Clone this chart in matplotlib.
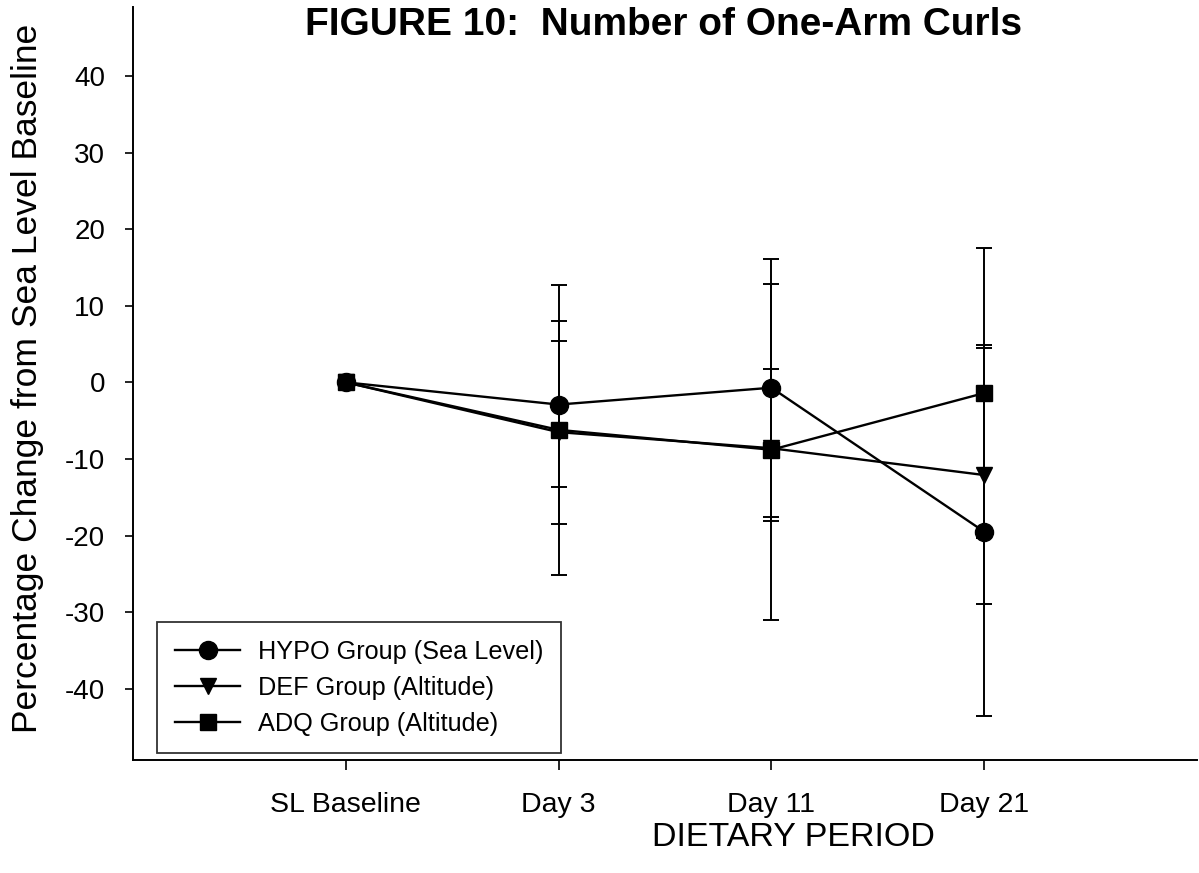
import matplotlib
matplotlib.use("Agg")
import matplotlib.pyplot as plt
import numpy as np

plt.rcParams['font.family'] = ['Liberation Sans', 'DejaVu Sans']
plt.rcParams['axes.unicode_minus'] = False

periods = ["SL Baseline", "Day 3", "Day 11", "Day 21"]
x_pos = [1, 2, 3, 4]

hypo_mean = [0.0, -2.9, -0.7, -19.5]
hypo_err_lo = [0.0, 10.8, 16.9, 24.0]
hypo_err_hi = [0.0, 10.9, 16.8, 24.0]

def_mean = [0.0, -6.5, -8.6, -12.1]
def_err_lo = [0.0, 18.6, 22.4, 16.9]
def_err_hi = [0.0, 19.2, 21.4, 17.0]

adq_mean = [0.0, -6.2, -8.8, -1.4]
adq_err_lo = [0.0, 12.3, 9.3, 18.9]
adq_err_hi = [0.0, 11.6, 10.5, 18.9]

series = [
    ("HYPO Group (Sea Level)", hypo_mean, hypo_err_lo, hypo_err_hi, "o", 13),
    ("DEF Group (Altitude)", def_mean, def_err_lo, def_err_hi, "v", 12),
    ("ADQ Group (Altitude)", adq_mean, adq_err_lo, adq_err_hi, "s", 11),
]

fig = plt.figure(figsize=(11.99, 8.73), dpi=100)
L, R, B, T = 133 / 1199, 1197 / 1199, 1 - 760 / 873, 1 - 7 / 873
ax = fig.add_axes([L, B, R - L, T - B])

handles = []
for label, m, lo, hi, mk, ms in series:
    ax.errorbar(x_pos, m, yerr=[lo, hi], fmt="none", ecolor="black",
                elinewidth=1.4, capsize=6, capthick=1.4, zorder=2)
    h, = ax.plot(x_pos, m, color="black", lw=1.7, marker=mk, ms=ms,
                 mfc="black", mec="black", zorder=3, label=label)
    handles.append(h)

ax.set_xlim(0, 5)
ax.set_ylim(-49.3, 49.0)
ax.set_xticks(x_pos)
ax.set_xticklabels(periods, fontsize=20.5)
ax.set_yticks([-40, -30, -20, -10, 0, 10, 20, 30, 40])
ax.tick_params(axis="y", labelsize=20, direction="out", length=6, width=1.2, pad=14)
ax.tick_params(axis="x", direction="out", length=7, width=1.2, pad=16)
for s in ["top", "right"]:
    ax.spines[s].set_visible(False)
for s in ["left", "bottom"]:
    ax.spines[s].set_linewidth(1.4)

fig.text(28 / 1199, 1 - 378 / 873, "Percentage Change from Sea Level Baseline",
         fontsize=25.5, rotation=90, ha="center", va="center")
fig.text(793 / 1199, 1 - 838 / 873, "DIETARY PERIOD", fontsize=24.5,
         ha="center", va="center")
fig.text(664 / 1199, 1 - 25 / 873, "FIGURE 10:  Number of One-Arm Curls",
         fontsize=28, fontweight="bold", ha="center", va="center")

leg = ax.legend(handles=handles, loc="lower left",
                bbox_to_anchor=(0.0226, 0.009), borderaxespad=0,
                fontsize=18.2, handlelength=2.6, labelspacing=0.47,
                handletextpad=0.7, borderpad=0.7, fancybox=False,
                frameon=True, edgecolor="black")
leg.get_frame().set_linewidth(1.3)

fig.savefig("out.png", dpi=100)
